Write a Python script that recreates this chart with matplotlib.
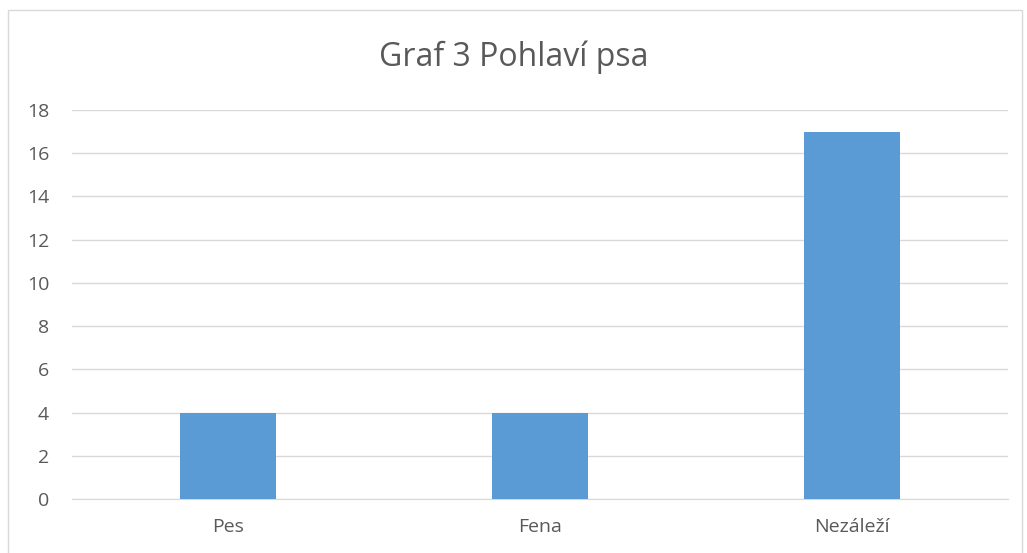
import matplotlib.pyplot as plt
from matplotlib.patches import Rectangle

# Data
categories = ['Pes', 'Fena', 'Nezáleží']
values = [4, 4, 17]
y_ticks = list(range(0, 19, 2))

plt.rcParams['font.family'] = ['Open Sans', 'DejaVu Sans']

fig = plt.figure(figsize=(10.27, 5.53), dpi=100)
ax = fig.add_axes([72 / 1027, 54 / 553, 936 / 1027, 389 / 553])

x = range(len(categories))
ax.bar(x, values, width=0.31, color='#5b9bd5', zorder=3)

ax.set_xlim(-0.5, len(categories) - 0.5)
ax.set_ylim(0, 18)
ax.set_yticks(y_ticks)
ax.set_xticks(list(x))
ax.set_xticklabels(categories)

# Grid and spines
ax.grid(axis='y', color='#d9d9d9', linewidth=1, zorder=0)
for side in ['top', 'right', 'left']:
    ax.spines[side].set_visible(False)
ax.spines['bottom'].set_color('#d9d9d9')
ax.tick_params(axis='both', length=0, labelsize=14, labelcolor='#595959')
ax.tick_params(axis='x', pad=14)
ax.tick_params(axis='y', pad=16.5)

fig.text(0.5, 1 - 57 / 553, 'Graf 3 Pohlaví psa', ha='center', va='center',
         fontsize=23, color='#595959')

# Chart border
fig.patches.append(Rectangle((8 / 1027, -0.01), 1014 / 1027, 1 - 10 / 553 + 0.01,
                             transform=fig.transFigure, fill=False,
                             edgecolor='#d9d9d9', linewidth=1))

fig.savefig('out.png', dpi=100)
